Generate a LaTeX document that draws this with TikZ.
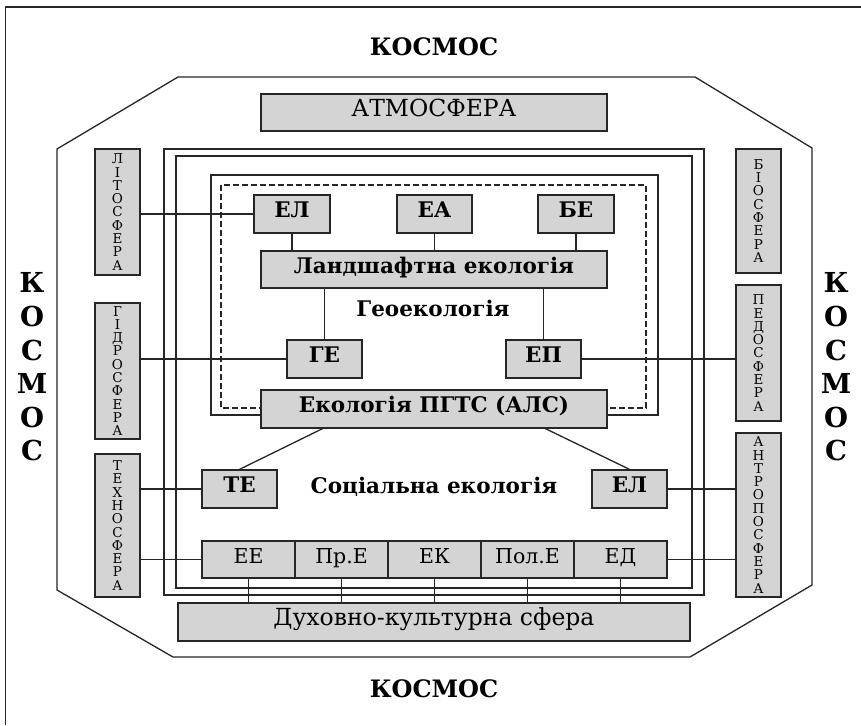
\documentclass[tikz,border=0pt]{standalone}
\usepackage{fontspec}
\setmainfont{DejaVu Serif}
\usetikzlibrary{calc}
\definecolor{lc}{HTML}{262626}
\definecolor{bx}{HTML}{D4D4D4}
\tikzset{
  ln/.style={draw=lc, line width=1.3pt},
  box/.style={draw=lc, fill=bx, line width=1.3pt, inner sep=0pt,
              text height=0.73em, text depth=0pt, text=black},
  bl/.style={font=\fontsize{21.5}{24}\selectfont\bfseries},
  rg/.style={font=\fontsize{20.5}{24}\selectfont},
  big/.style={font=\fontsize{23.5}{27}\selectfont},
  vt/.style={box, align=center, minimum width=45pt, text height=, text depth=,
             font=\fontsize{13.5}{13.3}\selectfont},
  sidek/.style={align=center, font=\fontsize{27.5}{33.6}\selectfont\bfseries},
  kos/.style={font=\fontsize{24}{28}\selectfont\bfseries},
}
\begin{document}
\begin{tikzpicture}[x=1pt, y=-1pt]
\useasboundingbox (0,0) rectangle (861,725);
\fill[white] (0,0) rectangle (861,725);

% outer frame (open to the right and bottom)
\draw[ln] (5.5,725) -- (5.5,7) -- (861,7);

% octagonal boundary of the geosystem
\draw[ln] (178,77) -- (695,77) -- (812,148) -- (812,585) -- (690,657)
          -- (173,657) -- (57,590) -- (57,149) -- cycle;

% nested frames
\draw[ln] (164,149) rectangle (704,595);
\draw[ln] (176,156) rectangle (692,588);
\draw[ln] (211,175) rectangle (658,415);
\draw[draw=lc, line width=1.1pt, dash pattern=on 6pt off 3pt] (221,185) rectangle (646,408);

% titles
\node[kos] (ktop) at (434,47) {КОСМОС};
\node[kos] (kbot) at (434,689) {КОСМОС};
\node[sidek] (kleft) at (32,367) {К\\О\\С\\М\\О\\С};
\node[sidek] (kright) at (836,367) {К\\О\\С\\М\\О\\С};

% boxes
\node[box, big, minimum width=346pt, minimum height=37pt] (atm) at (434,112.5) {АТМОСФЕРА};

\node[box, bl, minimum width=76pt, minimum height=38pt] (el1) at (292,214) {ЕЛ};
\node[box, bl, minimum width=75pt, minimum height=38pt] (ea) at (434.5,214) {ЕА};
\node[box, bl, minimum width=76pt, minimum height=38pt] (be) at (576,214) {БЕ};
\node[box, bl, minimum width=346pt, minimum height=37pt] (land) at (434,269.5) {Ландшафтна екологія};
\node[bl, text height=0.73em, text depth=0pt] (geo) at (433,313) {Геоекологія};
\node[box, bl, minimum width=75pt, minimum height=38pt] (ge) at (324.5,359) {ГЕ};
\node[box, bl, minimum width=75pt, minimum height=38pt] (ep) at (543.5,359) {ЕП};
\node[box, bl, minimum width=346pt, minimum height=38pt] (pgts) at (434,409) {Екологія ПГТС (АЛС)};
\node[box, bl, minimum width=75pt, minimum height=38pt] (te) at (239.5,489) {ТЕ};
\node[box, bl, minimum width=75pt, minimum height=38pt] (el2) at (629.5,489) {ЕЛ};
\node[bl, text height=0.73em, text depth=0pt] (soc) at (434,490) {Соціальна екологія};

\node[box, rg, minimum width=93pt, minimum height=37pt] (ee) at (248.5,559.5) {ЕЕ};
\node[box, rg, minimum width=93pt, minimum height=37pt] (pre) at (341.5,559.5) {Пр.Е};
\node[box, rg, minimum width=93pt, minimum height=37pt] (ek) at (434.5,559.5) {ЕК};
\node[box, rg, minimum width=93pt, minimum height=37pt] (pole) at (527.5,559.5) {Пол.Е};
\node[box, rg, minimum width=93pt, minimum height=37pt] (ed) at (620.5,559.5) {ЕД};
\node[box, big, minimum width=512pt, minimum height=38pt] (dukh) at (434,622) {Духовно-культурна сфера};

\node[vt, minimum height=126pt] (lito) at (117.5,212) {Л\\І\\Т\\О\\С\\Ф\\Е\\Р\\А};
\node[vt, minimum height=136pt] (gidro) at (117.5,371) {Г\\І\\Д\\Р\\О\\С\\Ф\\Е\\Р\\А};
\node[vt, minimum height=143pt] (tekh) at (117.5,525.5) {Т\\Е\\Х\\Н\\О\\С\\Ф\\Е\\Р\\А};
\node[vt, minimum height=124pt] (bio) at (758.5,211) {Б\\І\\О\\С\\Ф\\Е\\Р\\А};
\node[vt, minimum height=136pt] (pedo) at (758.5,353) {П\\Е\\Д\\О\\С\\Ф\\Е\\Р\\А};
\node[vt, minimum height=164pt] (antr) at (758.5,515) {А\\Н\\Т\\Р\\О\\П\\О\\С\\Ф\\Е\\Р\\А};

% connectors
\draw[ln] (el1.south) -- (el1.south |- land.north);
\draw[ln] (ea.south) -- (ea.south |- land.north);
\draw[ln] (be.south) -- (be.south |- land.north);
\draw[ln] (ge.north) -- (ge.north |- land.south);
\draw[ln] (ep.north) -- (ep.north |- land.south);
\draw[ln] ($(pgts.south west)!0.179!(pgts.south east)$) -- (te.north);
\draw[ln] ($(pgts.south west)!0.821!(pgts.south east)$) -- (el2.north);
\foreach \c in {ee,pre,ek,pole,ed}
  \draw[ln] (\c.south) -- (\c.south |- dukh.north);

\draw[ln] (el1.west) -- (el1.west -| lito.east);
\draw[ln] (ge.west) -- (ge.west -| gidro.east);
\draw[ln] (te.west) -- (te.west -| tekh.east);
\draw[ln] (ee.west) -- (ee.west -| tekh.east);
\draw[ln] (ep.east) -- (ep.east -| pedo.west);
\draw[ln] (el2.east) -- (el2.east -| antr.west);
\draw[ln] (ed.east) -- (ed.east -| antr.west);
\end{tikzpicture}
\end{document}
